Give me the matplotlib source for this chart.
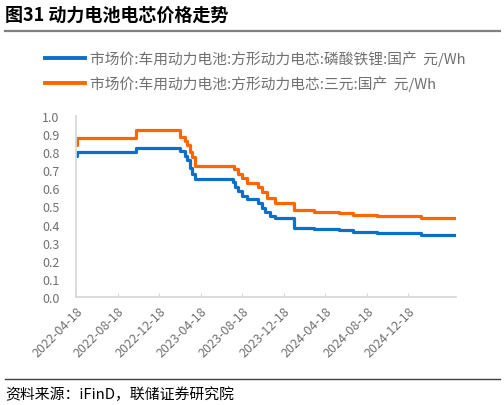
import matplotlib
matplotlib.use('Agg')
import matplotlib.pyplot as plt
import matplotlib.dates as mdates
from matplotlib.lines import Line2D
import pandas as pd

plt.rcParams['font.family'] = ['Noto Sans CJK SC', 'DejaVu Sans']

# step change dates and prices (元/Wh)
lfp_dates = ['2022-04-18', '2022-04-21', '2022-10-11', '2023-02-17', '2023-03-03',
             '2023-03-10', '2023-03-17', '2023-03-25', '2023-04-03', '2023-07-21',
             '2023-07-29', '2023-08-05', '2023-08-19', '2023-08-31', '2023-10-05',
             '2023-10-15', '2023-10-24', '2023-11-08', '2023-11-22', '2024-01-16',
             '2024-03-17', '2024-05-27', '2024-07-09', '2024-09-18', '2025-01-24',
             '2025-05-07']
lfp_price = [0.78, 0.80, 0.825, 0.805, 0.78,
             0.755, 0.71, 0.68, 0.65, 0.635,
             0.605, 0.585, 0.56, 0.54, 0.52,
             0.49, 0.47, 0.45, 0.435, 0.38,
             0.375, 0.368, 0.36, 0.354, 0.343,
             0.343]

ncm_dates = ['2022-04-18', '2022-04-21', '2022-10-11', '2023-02-17', '2023-03-03',
             '2023-03-10', '2023-03-17', '2023-03-25', '2023-04-03', '2023-07-25',
             '2023-08-05', '2023-08-19', '2023-09-02', '2023-10-05', '2023-10-15',
             '2023-10-29', '2023-11-22', '2024-01-16', '2024-03-17', '2024-05-27',
             '2024-07-09', '2024-09-18', '2025-01-24', '2025-05-07']
ncm_price = [0.84, 0.88, 0.92, 0.885, 0.86,
             0.84, 0.80, 0.775, 0.725, 0.705,
             0.68, 0.655, 0.63, 0.605, 0.58,
             0.545, 0.52, 0.48, 0.47, 0.462,
             0.453, 0.448, 0.438, 0.438]

tick_dates = ['2022-04-18', '2022-08-18', '2022-12-18', '2023-04-18', '2023-08-18',
              '2023-12-18', '2024-04-18', '2024-08-18', '2024-12-18']

lfp_label = '市场价:车用动力电池:方形动力电芯:磷酸铁锂:国产  元/Wh'
ncm_label = '市场价:车用动力电池:方形动力电芯:三元:国产  元/Wh'

blue = '#0A70CC'
orange = '#FF6600'
gray_text = '#707070'

fig = plt.figure(figsize=(5.04, 4.06), dpi=100)
ax = fig.add_axes([0.151, 0.266, 0.754, 0.446])

x1 = mdates.date2num(pd.to_datetime(lfp_dates))
x2 = mdates.date2num(pd.to_datetime(ncm_dates))
ax.plot(x1, lfp_price, color=blue, linewidth=2.3, drawstyle='steps-post')
ax.plot(x2, ncm_price, color=orange, linewidth=2.3, drawstyle='steps-post')

ax.set_xlim(x1[0], x1[-1])
ax.set_ylim(0, 1.0)
ax.set_yticks([i / 10 for i in range(11)])
ax.set_yticklabels([f'{i / 10:.1f}' for i in range(11)])
ax.set_xticks(mdates.date2num(pd.to_datetime(tick_dates)))
ax.set_xticklabels(tick_dates, rotation=45, ha='right', rotation_mode='anchor')

for side in ['top', 'right']:
    ax.spines[side].set_visible(False)
for side in ['left', 'bottom']:
    ax.spines[side].set_color('#D9D9D9')
    ax.spines[side].set_linewidth(1.3)

ax.tick_params(axis='y', length=0, pad=12, labelsize=9, labelcolor=gray_text)
ax.tick_params(axis='x', direction='in', length=3, color='#D9D9D9', pad=5,
               labelsize=9, labelcolor=gray_text)

# title and rule
fig.text(0.01, 0.962, '图31 动力电池电芯价格走势', fontsize=13, fontweight='bold',
         va='center', ha='left', color='black')
fig.add_artist(Line2D([0.01, 0.992], [0.921, 0.921], color='#808080', linewidth=1.6))

# legend drawn manually
for y, color, label in [(0.855, blue, lfp_label), (0.793, orange, ncm_label)]:
    fig.add_artist(Line2D([0.089, 0.169], [y, y], color=color, linewidth=2.8))
    fig.text(0.179, y, label, fontsize=10.6, va='center', ha='left', color=gray_text)

# source footer
fig.add_artist(Line2D([0.01, 0.992], [0.064, 0.064], color='#404040', linewidth=1.0))
fig.text(0.01, 0.027, '资料来源：iFinD，联储证券研究院', fontsize=10.7, va='center',
         ha='left', color='black')

fig.savefig('out.png', dpi=100)
plt.close(fig)
